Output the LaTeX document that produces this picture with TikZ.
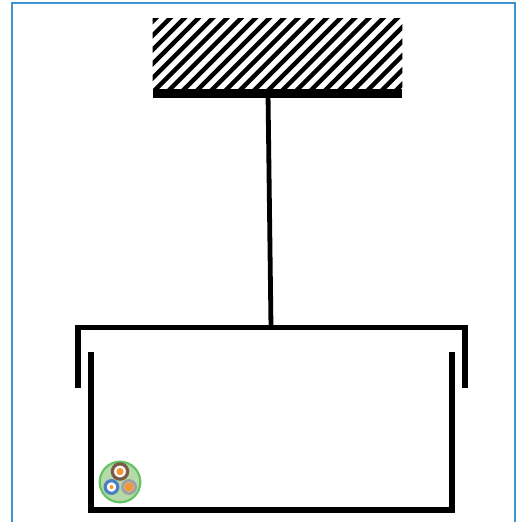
\documentclass[tikz,border=0pt]{standalone}
\usepackage{xcolor}
\usetikzlibrary{positioning,calc}
\definecolor{cFrame}{HTML}{3F93CF}
\definecolor{cGreen}{HTML}{62C462}
\definecolor{cSheath}{HTML}{B5D9A8}
\definecolor{cBrown}{HTML}{7A5A48}
\definecolor{cBlue}{HTML}{4A7FC4}
\definecolor{cGray}{HTML}{A0A0A0}
\definecolor{cCore}{HTML}{F0953A}
\tikzset{
  frameln/.style = {draw=cFrame, line width=1.9pt},
  wall/.style    = {draw=black, line width=4.1pt, line join=miter},
  rod/.style     = {draw=black, line width=3.6pt},
  hatchln/.style = {draw=black, line width=3.3pt},
  mount/.style   = {rectangle, fill=black, inner sep=0pt, minimum width=187pt, minimum height=7pt},
  ceil/.style    = {rectangle, inner sep=0pt, minimum width=187pt, minimum height=52pt},
  cable/.style   = {circle, draw=cGreen, fill=cSheath, line width=1.6pt, minimum size=30.5pt, inner sep=0pt},
  wire/.style    = {circle, draw=#1, fill=white, line width=2.4pt, minimum size=11.5pt, inner sep=0pt},
  core/.style    = {circle, fill=cCore, minimum size=5.5pt, inner sep=0pt},
}
\begin{document}
\begin{tikzpicture}[x=0.75pt, y=-0.75pt]
  \useasboundingbox (0,0) rectangle (517,522);
  % outer frame, open at the bottom
  \coordinate (frameBL) at (12,522);
  \coordinate (frameTL) at (12,3);
  \coordinate (frameTR) at (515,3);
  \coordinate (frameBR) at (515,522);
  \draw[frameln] (frameBL) -- (frameTL) -- (frameTR) -- (frameBR);

  % support
  \node[ceil] (ceil) at (277.5,53.5) {};
  \node[mount, below=0pt of ceil] (mount) {};
  \begin{scope}
    \clip (ceil.north west) rectangle (ceil.south east);
    \foreach \i in {0,...,24}
      \draw[hatchln] (76+14.2*\i,98) -- ++(85,-85);
  \end{scope}

  % lid
  \coordinate (lidT) at (271,327.5);
  \coordinate (lidLB) at (78,388);
  \coordinate (lidRB) at (465,388);
  \draw[wall] (lidLB) |- (lidT) -| (lidRB);
  \coordinate (rodT) at (268,93);
  \draw[rod] (rodT) -- (lidT);

  % tray
  \coordinate (trayL) at (91,352);
  \coordinate (trayR) at (452,352);
  \coordinate (trayB) at (271,510);
  \draw[wall] (trayL) |- (trayB) -| (trayR);

  % cable section
  \node[cable] (cable) at (120,482) {};
  \node[wire=cBrown] (w1) at (120,471.5) {};
  \node[wire=cBlue, minimum size=9.5pt] (w2) at (111.5,487) {};
  \node[wire=cGray, minimum size=9.5pt] (w3) at (129,487) {};
  \node[core] (c1) at (w1) {};
  \node[core, minimum size=3pt] (c2) at (w2) {};
  \node[core, minimum size=7pt] (c3) at (w3) {};
\end{tikzpicture}
\end{document}
